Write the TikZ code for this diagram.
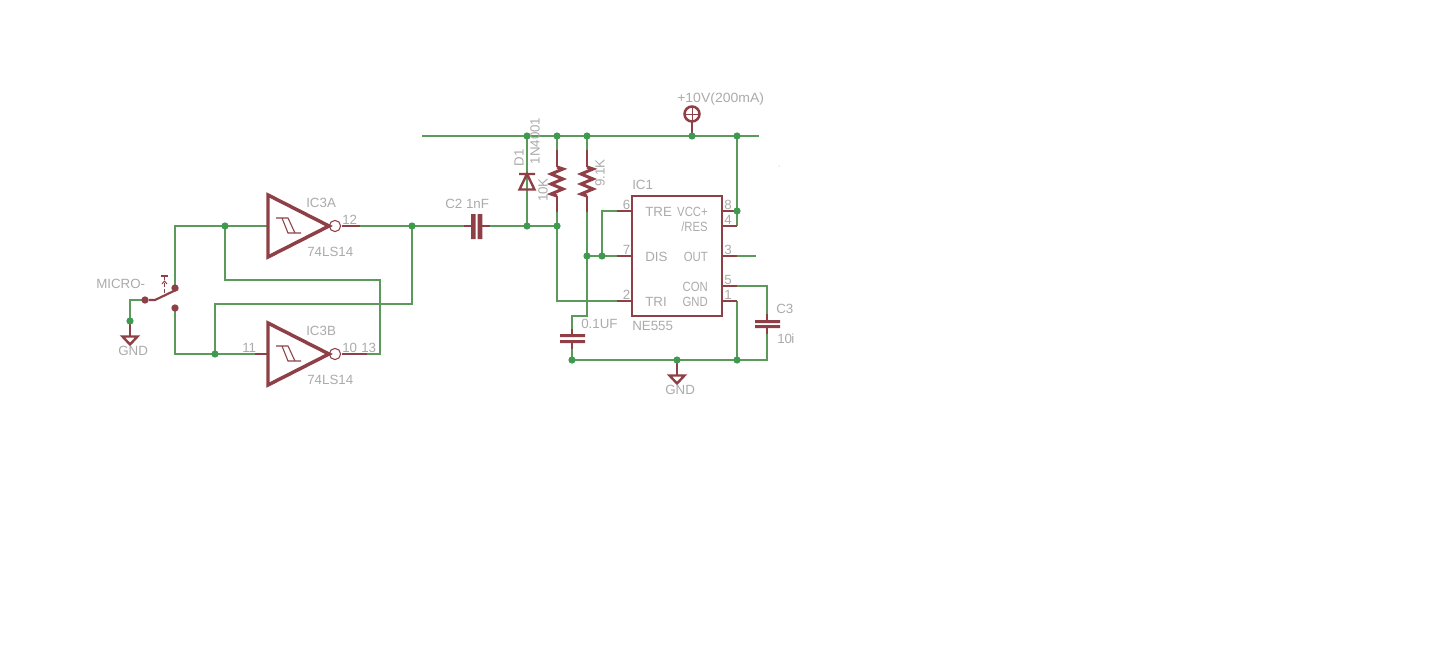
\documentclass[tikz,border=0pt]{standalone}
\usepackage{fontspec}
\setmainfont{Liberation Sans}
\definecolor{wirec}{HTML}{5B9A5B}
\definecolor{juncc}{HTML}{3F9A4F}
\definecolor{symc}{HTML}{8F3F46}
\definecolor{txtc}{HTML}{ABABAB}
\tikzset{
  wire/.style={draw=wirec,line width=1pt},
  pinl/.style={draw=symc,line width=1pt},
  sym/.style={draw=symc,line width=2.6pt,line join=miter},
  thin sym/.style={draw=symc,line width=.8pt},
  junc/.style={circle,fill=juncc,inner sep=0pt,minimum size=5.4pt},
  swdot/.style={circle,fill=symc,inner sep=0pt,minimum size=5.5pt},
  lbl/.style={text=txtc,font=\fontsize{10}{10}\selectfont,inner sep=0pt},
  lw/.style={lbl,anchor=west},
  lc/.style={lbl,anchor=center},
  le/.style={lbl,anchor=east,xscale=.85},
  rzig/.pic={\draw[draw=symc,line width=2.3pt,line join=miter] (0,167)--(6,169)--(-6,174)--(6,179)--(-6,184)--(6,189)--(-6,194)--(0,196);},
  gate/.pic={
    \draw[sym] (268,-31)--(268,31)--(329,0)--cycle;
    \draw[thin sym] (335,0) circle[radius=5.6];
    \draw[thin sym] (276,-8)--(288,-8)--(295,7);
    \draw[thin sym] (282,-8)--(288,7)--(301,7);
  },
  gndsym/.pic={\draw[draw=symc,line width=1.8pt,line join=miter] (-7.5,0)--(7.5,0)--(0,8)--cycle;}
}
\begin{document}
\begin{tikzpicture}[x=.75pt,y=-.75pt]
\path[fill=white,use as bounding box] (0,0) rectangle (1436,667);
\foreach \n/\x/\y in {
 railL/422/136, railR/759/136, jD/527/136, jR/557/136, jS/587/136, jV/692/136, jE/737/136,
 jIA/225/226, jOA/412/226, jC/527/226, jT/557/226,
 jIB/215/354, jG/130/321, jD7/587/256, j67/602/256, j84/737/211,
 jB1/572/360, jB2/677/360, jB3/737/360,
 swA/175/288, swB/175/308, swC/145/300}{\coordinate (p\n) at (\x,\y);}
% wires
\draw[wire] (pswA)--(175,226)--(268,226);
\draw[wire] (prailL)--(prailR);
\draw[wire] (pjIA)--(225,280)--(380,280)--(380,354)--(360,354);
\draw[wire] (360,226)--(pjOA)--(468,226);
\draw[wire] (pjOA)--(412,304)--(215,304)--(pjIB);
\draw[wire] (pswB)--(175,354)--(255,354);
\draw[wire] (pswC)--(130,300)--(pjG);
\draw[wire] (486,226)--(pjT);
\draw[wire] (pjD)--(pjC);
\draw[wire] (pjR)--(557,152);
\draw[wire] (557,210)--(pjT)--(557,301)--(617,301);
\draw[wire] (pjS)--(587,152);
\draw[wire] (587,210)--(587,316)--(572,316)--(572,330);
\draw[wire] (572,345)--(pjB1)--(767,360)--(767,330);
\draw[wire] (pj67)--(602,211)--(617,211);
\draw[wire] (pjD7)--(617,256);
\draw[wire] (pjE)--(737,226);
\draw[wire] (737,301)--(pjB3);
\draw[wire] (737,256)--(756,256);
\draw[wire] (737,286)--(767,286)--(767,316);
% red pin stubs
\draw[pinl] (342,226)--(360,226);
\draw[pinl] (342,354)--(367,354);
\draw[pinl] (255,354)--(268,354);
\draw[pinl] (pjG)--(130,336);
\draw[pinl] (464,226)--(472,226) (482,226)--(490,226);
\draw[pinl] (557,150)--(557,167) (557,196)--(557,212);
\draw[pinl] (587,150)--(587,167) (587,196)--(587,212);
\draw[pinl] (617,211)--(632,211) (617,256)--(632,256) (617,301)--(632,301);
\draw[pinl] (722,211)--(737,211) (722,226)--(737,226) (722,256)--(737,256) (722,286)--(737,286) (722,301)--(737,301);
\draw[pinl] (692,122)--(pjV);
\draw[pinl] (pjB2)--(677,375);
\draw[pinl] (572,329)--(572,335) (572,343)--(572,349);
\draw[pinl] (767,314)--(767,320) (767,328)--(767,334);
% gates
\pic at (0,226) {gate};
\pic at (0,354) {gate};
% switch
\node[swdot] (swa) at (pswA) {};
\node[swdot] (swb) at (pswB) {};
\node[swdot] (swc) at (pswC) {};
\draw[draw=symc,line width=1.6pt] (swc)--(155,300)--(178,289);
\draw[draw=symc,line width=1.4pt] (161,276)--(168,276);
\draw[draw=symc,line width=.8pt,densely dashed] (164.5,276)--(164.5,294);
\draw[draw=symc,line width=.7pt] (162,284)--(164.5,281)--(167,284);
% GND symbols
\pic at (130,336.5) {gndsym};
\pic at (677,375.5) {gndsym};
% capacitors
\fill[symc] (471,214) rectangle (475.7,239) (477.7,214) rectangle (482.3,239);
\fill[symc] (560,334) rectangle (585,337) (560,340) rectangle (585,343);
\fill[symc] (755,320) rectangle (780,323) (755,325) rectangle (780,328);
% diode
\draw[draw=symc,line width=1.8pt,line join=miter] (519,174)--(535,174) (527,174)--(519.5,189.5)--(534.5,189.5)--cycle;
% resistors
\pic at (557,0) {rzig};
\pic at (587,0) {rzig};
% IC
\node[draw=symc,line width=1.9pt,minimum width=67.5pt,minimum height=90pt,inner sep=0pt] (ic1) at (677,256) {};
% supply
\draw[draw=symc,line width=1.9pt] (692,114) circle[radius=7.5];
\draw[draw=symc,line width=.7pt] (686,114)--(698,114) (692,108)--(692,120);
% junctions
\foreach \n in {jD,jR,jS,jV,jE,jIA,jOA,jC,jT,jIB,jG,jD7,j67,j84,jB1,jB2,jB3}{\node[junc] (\n) at (p\n) {};}
% dot
\fill[gray!70] (779,166) circle[radius=.5];
% labels
\node[lw] (tm) at (96,284) {MICRO-};
\node[lw] (tg1) at (118,351) {GND};
\node[lw] (tg2) at (665,389.5) {GND};
\node[lw] (ta) at (306,203) {IC3A};
\node[lw] (tb) at (306,331) {IC3B};
\node[lw] (ta2) at (307,252) {74LS14};
\node[lw] (tb2) at (307,380) {74LS14};
\node[lw] (t12) at (342,219.5) {12};
\node[lw] (t11) at (242,347.5) {11};
\node[lw] (t10) at (342,347.5) {10};
\node[lw] (t13) at (361,347.5) {13};
\node[lw] (tc2) at (445,203.5) {C2 1nF};
\node[lc,rotate=90] (td1) at (519,158) {D1};
\node[lc,rotate=90] (tn) at (535,141) {1N4001};
\node[lc,rotate=90] (t10k) at (543,190) {10K};
\node[lc,rotate=90] (t91) at (600,173) {9.1K};
\node[lw,xscale=1.05] (tv) at (677,99) {+10V(200mA)};
\node[lw] (tic) at (632,185) {IC1};
\node[lw] (tne) at (632,326) {NE555};
\node[lw] (ttre) at (645,211.5) {TRE};
\node[lw] (tdis) at (645,256.5) {DIS};
\node[lw] (ttri) at (645,301.5) {TRI};
\node[le] (tvcc) at (708,211.5) {VCC+};
\node[le] (tres) at (708,226.5) {/RES};
\node[le] (tout) at (708,256.5) {OUT};
\node[le] (tcon) at (708,286.5) {CON};
\node[le] (tgnd) at (708,301.5) {GND};
\node[lw] (p6) at (622.5,204.5) {6};
\node[lw] (p7) at (622.5,249.5) {7};
\node[lw] (p2) at (622.5,294.5) {2};
\node[lw] (p8) at (724,204.5) {8};
\node[lw] (p4) at (724,219.5) {4};
\node[lw] (p3) at (724,249.5) {3};
\node[lw] (p5) at (724,279.5) {5};
\node[lw] (p1) at (724,294.5) {1};
\node[lw] (tuf) at (581,323.5) {0.1UF};
\node[lw] (tc3) at (776,308.5) {C3};
\node[lw] (t10i) at (777,339) {10};
\node[lw] (ti) at (791,339) {i};
\end{tikzpicture}
\end{document}
